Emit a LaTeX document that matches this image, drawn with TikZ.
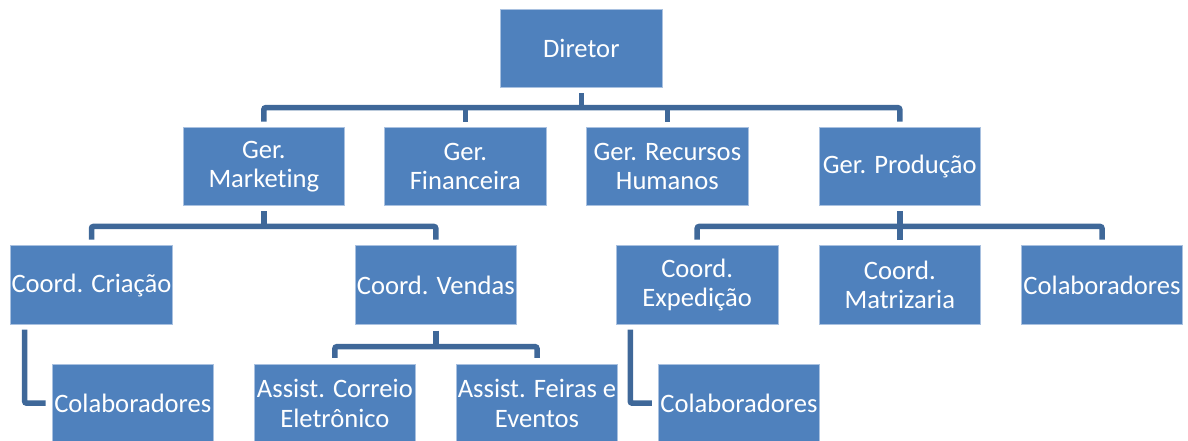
\documentclass[tikz,border=0pt]{standalone}
\usepackage{fontspec}
\setmainfont{Carlito}[Ligatures={NoCommon}]
\usetikzlibrary{calc}
\definecolor{boxfill}{HTML}{4F81BD}
\definecolor{boxline}{HTML}{A9C1E0}
\definecolor{connc}{HTML}{3F6899}
\begin{document}
\begin{tikzpicture}[x=1pt,y=-1pt,
  orgbox/.style={draw=boxline, line width=0.8pt, fill=boxfill, text=white,
    minimum width=161.5pt, minimum height=78.5pt, inner sep=0pt, align=center,
    font=\fontsize{26.6pt}{29.5pt}\selectfont},
  conn/.style={draw=connc, line width=5.5pt, rounded corners=2pt}]
\useasboundingbox (0,0) rectangle (1188,441);
% level 1
\node[orgbox] (dir) at (581.3,48.3) {Diretor};
% level 2
\node[orgbox] (mkt)  at (263.8,166.5) {Ger.\\Marketing};
\node[orgbox] (fin)  at (465.3,166.5) {Ger.\\Financeira};
\node[orgbox] (rh)   at (667.4,166.5) {Ger. Recursos\\Humanos};
\node[orgbox] (prod) at (899.8,166.5) {Ger. Produção};
% level 3
\node[orgbox] (cri)  at (91.5,285) {Coord. Criação};
\node[orgbox] (ven)  at (435.8,285) {Coord. Vendas};
\node[orgbox] (exp)  at (697.2,285) {Coord.\\Expedição};
\node[orgbox] (mat)  at (899.8,285) {Coord.\\Matrizaria};
\node[orgbox] (colR) at (1102,285) {Colaboradores};
% level 4
\node[orgbox] (colL) at (132.8,403.2) {Colaboradores};
\node[orgbox] (cor)  at (334.9,403.2) {Assist. Correio\\Eletrônico};
\node[orgbox] (fei)  at (537,403.2) {Assist. Feiras e\\Eventos};
\node[orgbox] (colM) at (738.9,403.2) {Colaboradores};
% bars
\coordinate (b1) at ($(dir.south)+(0,19.7)$);
\coordinate (b2) at ($(mkt.south)+(0,20.3)$);
\coordinate (b3) at ($(prod.south)+(0,20.3)$);
\coordinate (b4) at ($(ven.south)+(0,22)$);
% director -> managers
\draw[conn] ($(dir.south)+(0,5.4)$) -- (b1);
\draw[conn] ($(mkt.north)+(0,-5.3)$) |- (b1) -| ($(prod.north)+(0,-5.3)$);
\draw[conn] ($(fin.north)+(0,-5.3)$) -- (fin.north |- b1);
\draw[conn] ($(rh.north)+(0,-5.3)$) -- (rh.north |- b1);
% marketing -> coordinators
\draw[conn] ($(mkt.south)+(0,5)$) -- (b2);
\draw[conn] ($(cri.north)+(0,-5.8)$) |- (b2) -| ($(ven.north)+(0,-5.8)$);
% producao -> coordinators
\draw[conn] ($(prod.south)+(0,5)$) -- (b3);
\draw[conn] ($(exp.north)+(0,-5.8)$) |- (b3) -| ($(colR.north)+(0,-5.8)$);
\draw[conn] ($(mat.north)+(0,-5.8)$) -- (mat.north |- b3);
% vendas -> assistants
\draw[conn] ($(ven.south)+(0,6)$) -- (b4);
\draw[conn] ($(cor.north)+(0,-5.8)$) |- (b4) -| ($(fei.north)+(0,-5.8)$);
% side connectors
\draw[conn] ($(cri.south west)+(14.3,5)$) |- ($(colL.west)+(-6,0)$);
\draw[conn] ($(exp.south west)+(14.2,5)$) |- ($(colM.west)+(-6,0)$);
\end{tikzpicture}
\end{document}
